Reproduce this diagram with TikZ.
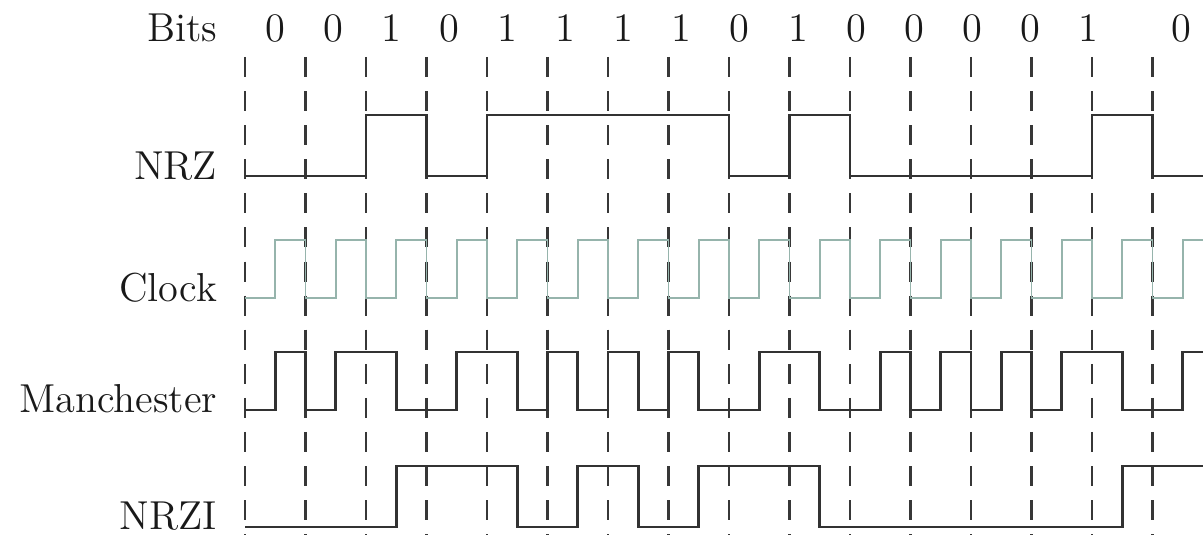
\documentclass[tikz,border=0pt]{standalone}

\definecolor{sigcol}{RGB}{50,50,50}
\definecolor{clockcol}{RGB}{150,180,172}
\definecolor{bitcol}{RGB}{55,55,55}

\begin{document}
\begin{tikzpicture}[x=6.05mm, y=1cm,
    signal/.style={line width=0.75pt, sigcol},
    clk/.style={line width=0.5pt, clockcol},
    bitline/.style={line width=0.7pt, bitcol, dash pattern=on 5.7pt off 4pt},
    lbl/.style={inner sep=0pt, anchor=base east, text=black!90, font=\fontsize{11.5}{14}\selectfont},
    bitval/.style={inner sep=0pt, anchor=base, text=black!90, font=\fontsize{11.5}{14}\selectfont}]
    \useasboundingbox (-4.05,0) rectangle (15.835,5.35);
    \clip (-4.05,0) rectangle (15.835,5.35);

    % Bit cell boundaries
    \foreach \i in {0,...,15}
        \draw[bitline] (\i,4.78) -- (\i,0);

    % Bits
    \node[lbl] (bits) at (-0.45,4.93) {Bits};
    \foreach \b [count=\i from 0] in {0,0,1,0,1,1,1,1,0,1,0,0,0,0,1}
        \node[bitval] (b\i) at ({0.5+0.96*\i},4.93) {\b};
    \node[bitval] (b15) at (15.47,4.93) {0};

    % NRZ
    \node[lbl] (nrz) at (-0.45,3.55) {NRZ};
    \draw[signal] (0,3.59) \foreach \b [count=\i from 0] in {0,0,1,0,1,1,1,1,0,1,0,0,0,0,1,0}
        { -- (\i,{3.59+0.61*\b}) -- (\i+1,{3.59+0.61*\b}) };

    % Clock
    \node[lbl] (clock) at (-0.45,2.33) {Clock};
    \draw[clk] (0,2.37) \foreach \i in {0,...,15}
        { -- (\i,2.37) -- (\i+0.5,2.37) -- (\i+0.5,2.95) -- (\i+1,2.95) };

    % Manchester (half cells)
    \node[lbl] (manch) at (-0.45,1.22) {Manchester};
    \draw[signal] (0,1.25) \foreach \v [count=\k from 0] in
        {0,1, 0,1, 1,0, 0,1, 1,0, 1,0, 1,0, 1,0, 0,1, 1,0, 0,1, 0,1, 0,1, 0,1, 1,0, 0,1}
        { -- ({\k/2},{1.25+0.58*\v}) -- ({(\k+1)/2},{1.25+0.58*\v}) };

    % NRZI (half cells)
    \node[lbl] (nrzi) at (-0.45,0.05) {NRZI};
    \draw[signal] (0,0.08) \foreach \v [count=\k from 0] in
        {0,0, 0,0, 0,1, 1,1, 1,0, 0,1, 1,0, 0,1, 1,1, 1,0, 0,0, 0,0, 0,0, 0,0, 0,1, 1,1}
        { -- ({\k/2},{0.08+0.61*\v}) -- ({(\k+1)/2},{0.08+0.61*\v}) };

\end{tikzpicture}
\end{document}
